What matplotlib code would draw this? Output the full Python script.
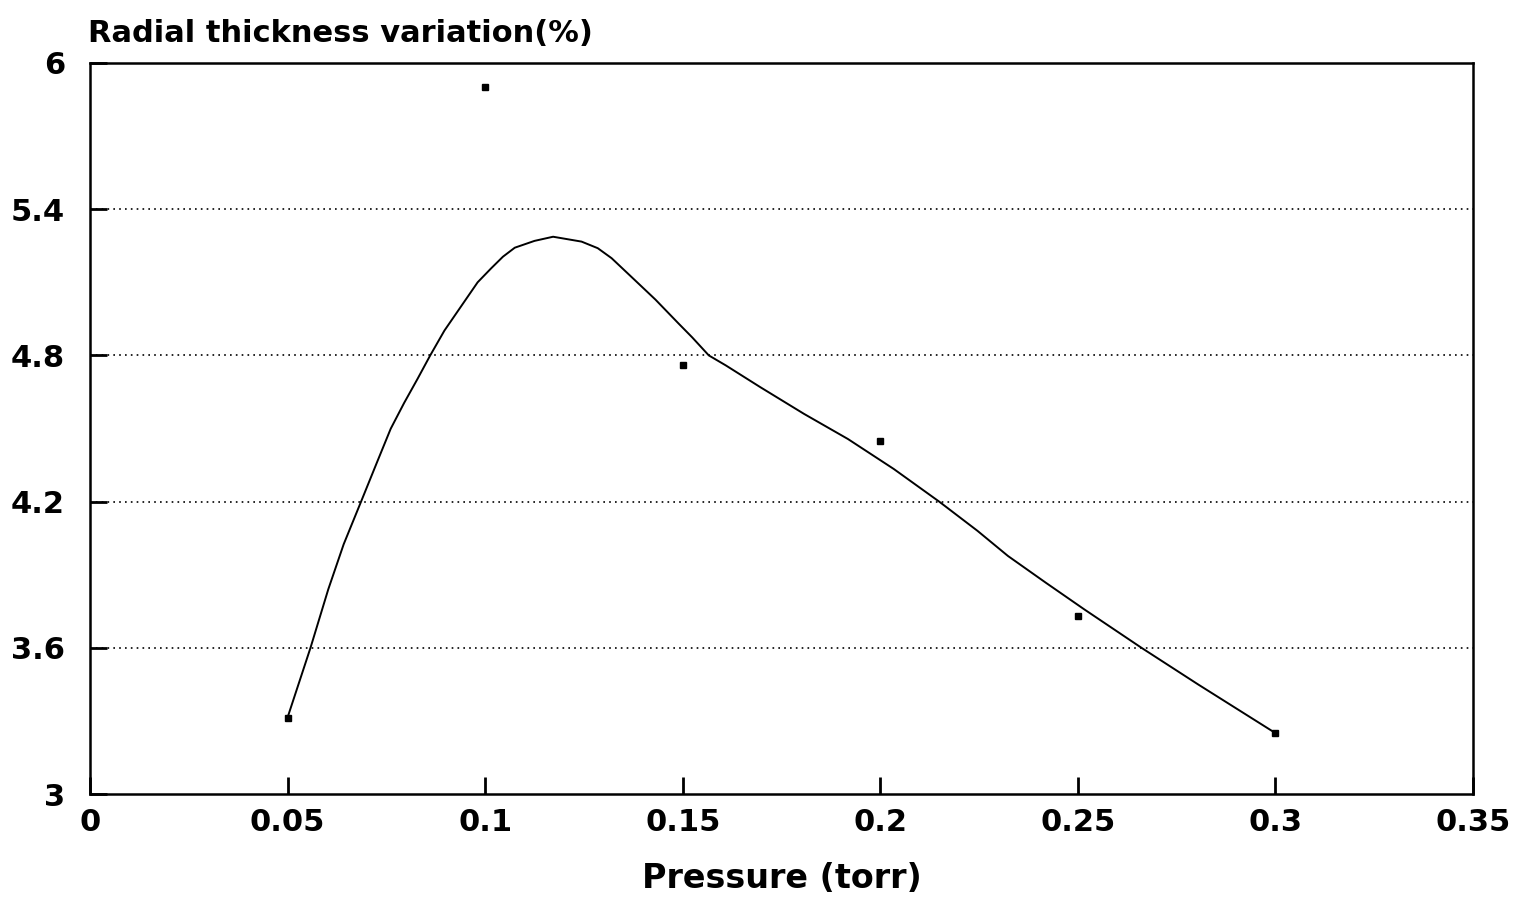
import matplotlib
matplotlib.use("Agg")
import matplotlib.pyplot as plt

# Measured points
pressure = [0.05, 0.10, 0.15, 0.20, 0.25, 0.30]
variation = [3.31, 5.90, 4.76, 4.45, 3.73, 3.25]

# Smoothed fit curve
curve_x = [0.05, 0.0558, 0.0603, 0.0642, 0.0686, 0.0727, 0.0761, 0.0795, 0.0829,
           0.0861, 0.0897, 0.0939, 0.0981, 0.1015, 0.1045, 0.1075, 0.1125, 0.1172, 0.1244,
           0.1285, 0.1320, 0.1371, 0.1431, 0.1490, 0.1524, 0.1566, 0.1609, 0.1696, 0.1807,
           0.1918, 0.2034, 0.2149, 0.2246, 0.2323, 0.2419, 0.2516, 0.2661, 0.2805, 0.30]
curve_y = [3.314, 3.60, 3.84, 4.025, 4.20, 4.364, 4.499, 4.605, 4.704,
           4.80, 4.902, 5.001, 5.100, 5.157, 5.205, 5.242, 5.270, 5.287, 5.267,
           5.240, 5.199, 5.121, 5.029, 4.930, 4.874, 4.80, 4.759, 4.670, 4.560,
           4.457, 4.334, 4.20, 4.080, 3.977, 3.867, 3.758, 3.60, 3.449, 3.25]

x_ticks = [0, 0.05, 0.1, 0.15, 0.2, 0.25, 0.3, 0.35]
x_labels = ["0", "0.05", "0.1", "0.15", "0.2", "0.25", "0.3", "0.35"]
y_ticks = [3, 3.6, 4.2, 4.8, 5.4, 6]
y_labels = ["3", "3.6", "4.2", "4.8", "5.4", "6"]

plt.rcParams['font.family'] = ['DejaVu Sans']
plt.rcParams['font.weight'] = 'bold'

fig = plt.figure(figsize=(15.31, 9.23), dpi=100)
ax = fig.add_axes([90/1531, 1-794/923, (1473-90)/1531, (794-63)/923])

ax.plot(curve_x, curve_y, color='black', lw=1.4)
ax.plot(pressure, variation, linestyle='none', marker='s', ms=4.5, color='black')

ax.set_xlim(0, 0.35)
ax.set_ylim(3, 6)
ax.set_xticks(x_ticks)
ax.set_xticklabels(x_labels)
ax.set_yticks(y_ticks)
ax.set_yticklabels(y_labels)

for y in y_ticks[1:-1]:
    ax.axhline(y, color='black', lw=1.2, linestyle=(0, (1, 2.5)), zorder=0)

for s in ax.spines.values():
    s.set_linewidth(1.8)
ax.tick_params(axis='x', direction='in', length=12, width=2, pad=10,
               labelsize=22, top=False)
ax.tick_params(axis='y', direction='in', length=12, width=2, pad=18,
               labelsize=22, right=False)
for lab in ax.get_xticklabels() + ax.get_yticklabels():
    lab.set_fontweight('bold')

ax.set_xlabel("Pressure (torr)", fontsize=24, fontweight='bold', labelpad=18)
fig.text(88/1531, 1-42/923, "Radial thickness variation(%)", fontsize=22,
         fontweight='bold', ha='left', va='baseline')

fig.savefig("out.png", dpi=100)
